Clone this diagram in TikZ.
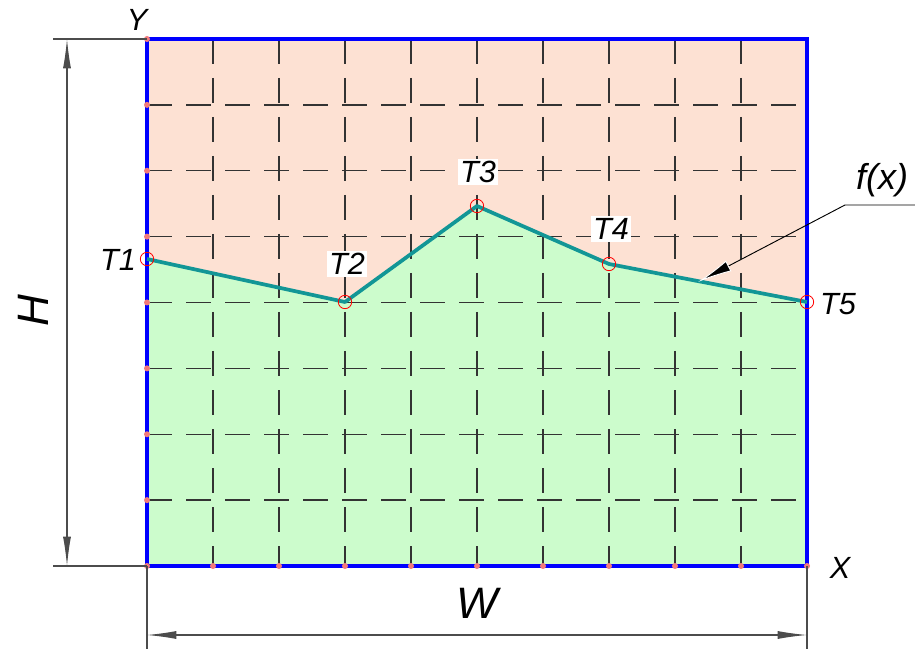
\documentclass[tikz,border=0pt]{standalone}
\usepackage{fontspec}
\setmainfont{Liberation Sans}
\usetikzlibrary{arrows.meta}
\definecolor{peach}{HTML}{FDE1D3}
\definecolor{mint}{HTML}{CCFCCC}
\definecolor{tealc}{HTML}{129696}
\definecolor{dotred}{HTML}{F27A7A}
\begin{document}
\begin{tikzpicture}[x=0.75pt,y=-0.75pt,
  gridln/.style={draw=black!80, line width=1pt, dash pattern=on 18.75pt off 10.5pt},
  lbl/.style={font=\fontsize{23}{26}\selectfont\itshape, inner sep=1.5pt},
  biglbl/.style={font=\fontsize{33}{36}\selectfont\itshape, inner sep=0pt},
  fxlbl/.style={font=\fontsize{27}{30}\selectfont\itshape, inner sep=0pt},
  tpt/.style={circle, draw=red, line width=0.6pt, minimum size=10pt, inner sep=0pt},
  rdot/.style={circle, fill=dotred, minimum size=4.5pt, inner sep=0pt},
  dimln/.style={draw=black!70, line width=0.8pt},
  dimarr/.style={dimln, {Latex[length=22pt,width=6pt]}-{Latex[length=22pt,width=6pt]}},
  curve/.style={draw=tealc, line width=2.8pt, line join=round},
  border/.style={draw=blue, line width=2.5pt}
]
\useasboundingbox (0,0) rectangle (915,649);
% regions
\fill[peach] (147,39) rectangle (807,566);
\fill[mint] (147,566) -- (147,259) -- (345,302) -- (477,206) -- (609,264) -- (807,302) -- (807,566) -- cycle;
% grid
\foreach \i in {1,...,9} \draw[gridln] ({147+66*\i},39) -- ({147+66*\i},566);
\foreach \j in {1,...,7} \draw[gridln] (147,{39+65.875*\j}) -- (807,{39+65.875*\j});
% border
\draw[border] (147,39) rectangle (807,566);
% red dots on edges
\foreach \j in {0,...,8} \node[rdot] (ld\j) at (147,{39+65.875*\j}) {};
\foreach \i in {1,...,10} \node[rdot] (bd\i) at ({147+66*\i},566) {};
% points
\coordinate (T1) at (147,259);
\coordinate (T2) at (345,302);
\coordinate (T3) at (477,206);
\coordinate (T4) at (609,264);
\coordinate (T5) at (807,302);
\draw[curve] (T1) -- (T2) -- (T3) -- (T4) -- (T5);
\foreach \k in {1,...,5} \node[tpt] (c\k) at (T\k) {};
% point labels
\node[lbl] (L1) at (118,260) {T1};
\node[lbl, fill=white] (L2) at (347,264) {T2};
\node[lbl, fill=white] (L3) at (478,172) {T3};
\node[lbl, fill=white] (L4) at (611,229) {T4};
\node[lbl] (L5) at (838,304) {T5};
% axes labels
\node[lbl] (Y) at (137,20) {Y};
\node[lbl] (X) at (840,568) {X};
% H dimension
\coordinate (hA) at (67,39);
\coordinate (hB) at (67,566);
\coordinate (hA0) at (53,39);
\coordinate (hA1) at (147,39);
\coordinate (hB0) at (53,566);
\coordinate (hB1) at (147,566);
\draw[dimln] (hA0) -- (hA1);
\draw[dimln] (hB0) -- (hB1);
\draw[dimarr] (hA) -- (hB);
\node[biglbl, rotate=90] (H) at (33,311) {H};
% W dimension
\coordinate (wA) at (147,635);
\coordinate (wB) at (807,635);
\coordinate (wA0) at (147,566);
\coordinate (wA1) at (147,649);
\coordinate (wB0) at (807,566);
\coordinate (wB1) at (807,649);
\draw[dimln] (wA0) -- (wA1);
\draw[dimln] (wB0) -- (wB1);
\draw[dimarr] (wA) -- (wB);
\node[biglbl] (W) at (477,603) {W};
% f(x) leader
\node[fxlbl] (fx) at (882,180) {f(x)};
\coordinate (fR) at (915,205);
\coordinate (fL) at (845,205);
\coordinate (fT) at (698,282);
\draw[black, line width=0.7pt, -{Latex[length=26pt,width=9pt,color=white,fill=black]}] (fR) -- (fL) -- (fT);
\end{tikzpicture}
\end{document}
